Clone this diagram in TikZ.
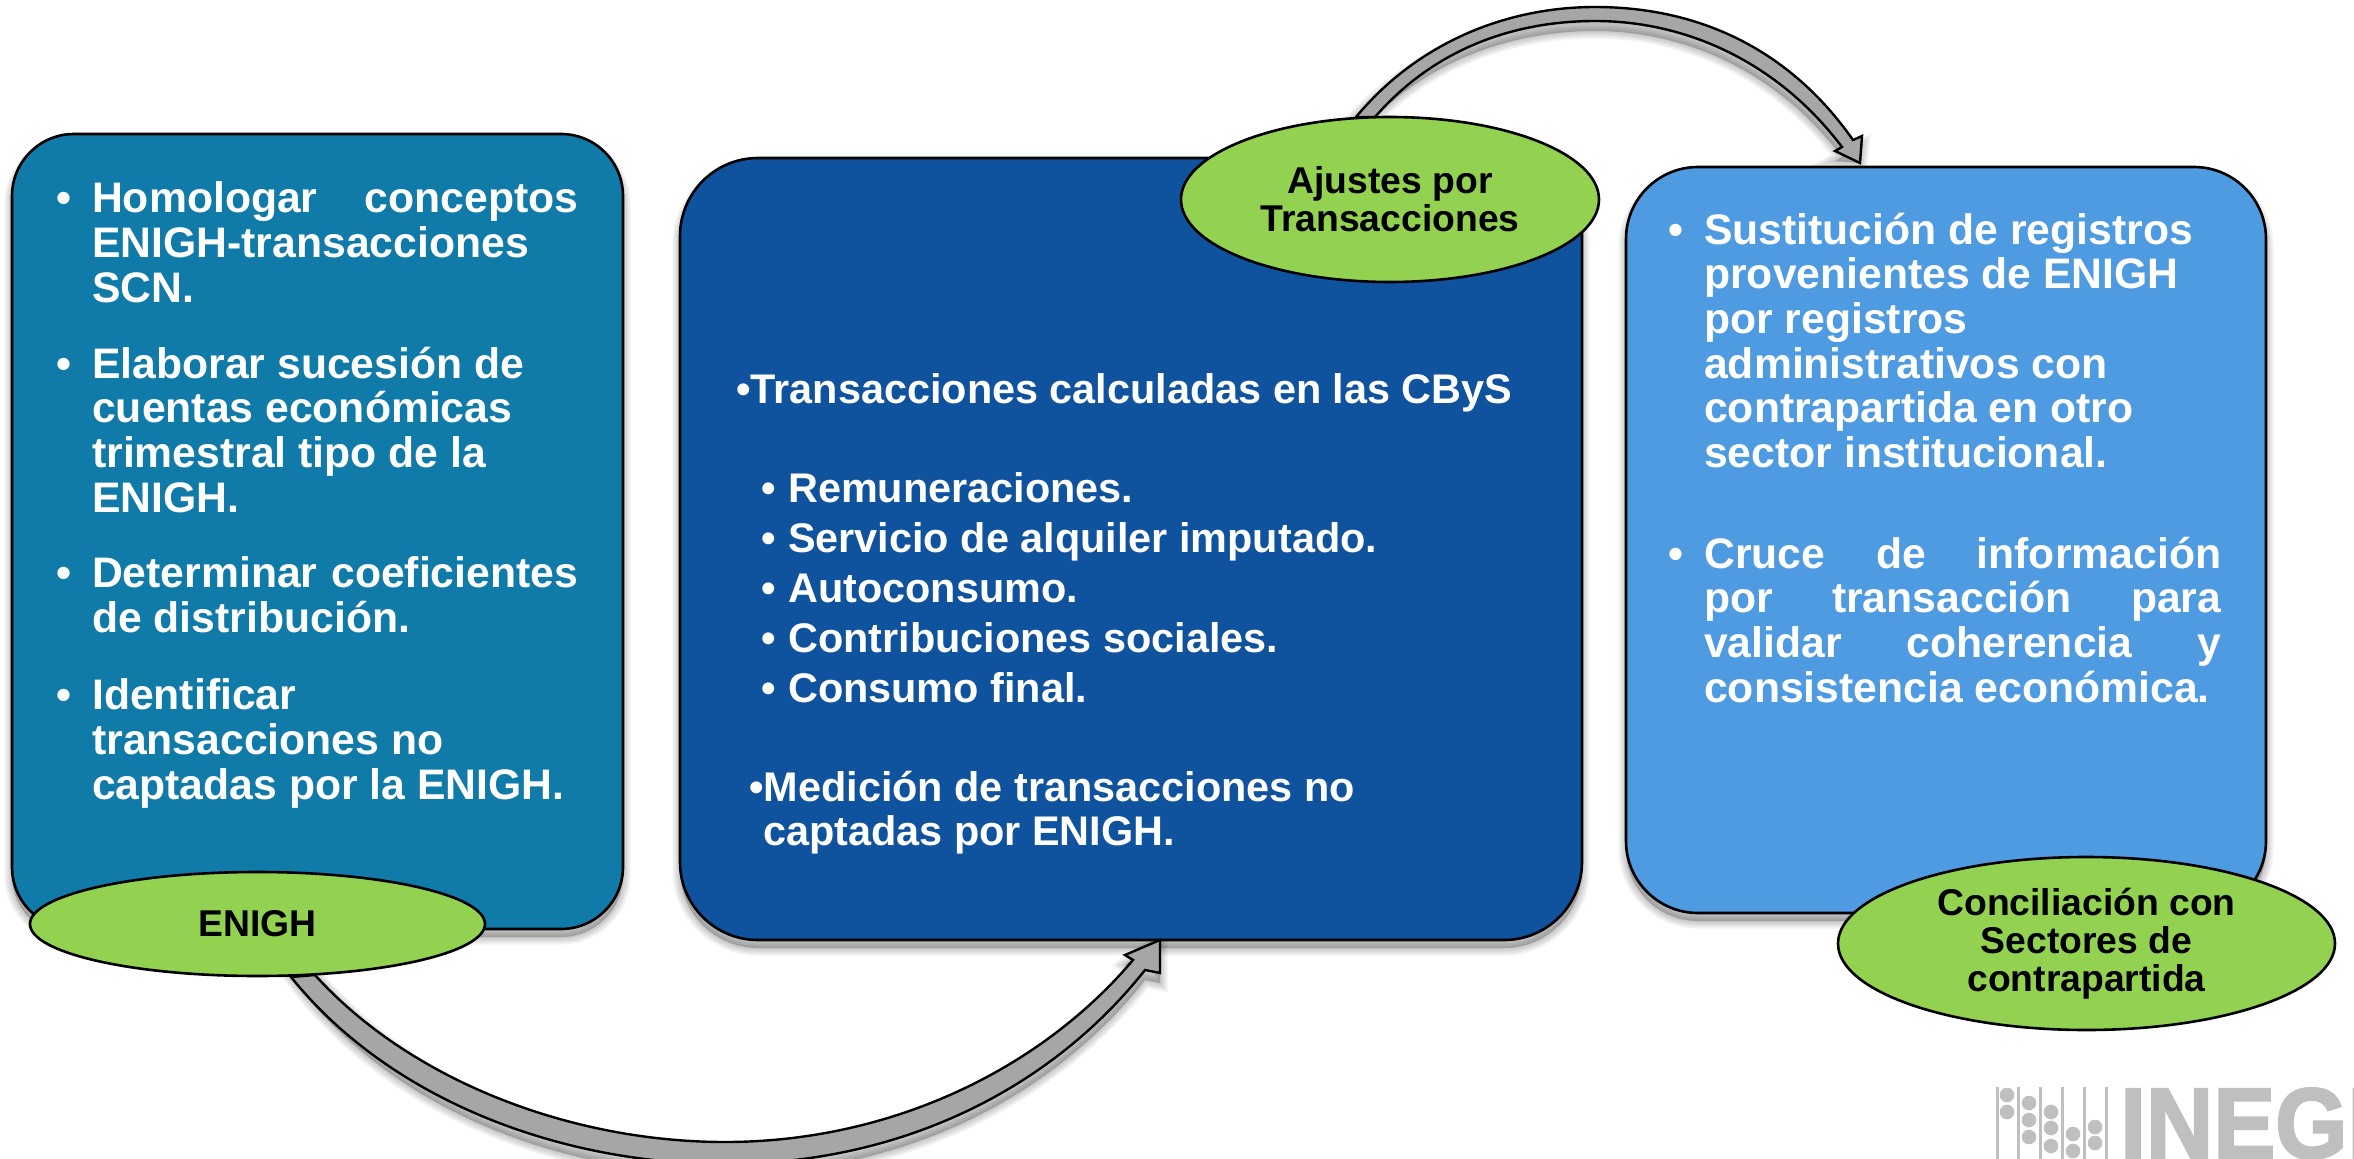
\documentclass[tikz,border=0pt]{standalone}
\usepackage{fontspec}
\setmainfont{Liberation Sans}
\newfontfamily\logofont[BoldFeatures={FakeBold=2.5}]{Liberation Sans}
\usetikzlibrary{shapes.geometric}
\definecolor{cA}{HTML}{107BA9}
\definecolor{cB}{HTML}{0F529D}
\definecolor{cC}{HTML}{4E9BE2}
\definecolor{cG}{HTML}{92D250}
\definecolor{cArrow}{HTML}{A6A6A6}
\definecolor{cLogo}{HTML}{BFBFBF}
\newcommand\softsh[2]{\foreach \w in {15,11,7,3}{\path[fill=black,draw=black,opacity=.055,line width=\w pt,shift={(0,#1)}] #2;}}
\newcommand\bul[1]{\llap{\textbullet\hskip#1pt}}
\tikzset{x=1pt,y=-1pt,
 boxnode/.style={draw=black,line width=2.6pt,inner sep=0pt,outer sep=0pt},
 ell/.style={ellipse,draw=black,line width=2.6pt,fill=cG,inner sep=0pt,align=center,text=black,font=\fontsize{37.3}{38.3}\selectfont\bfseries},
 bl/.style={anchor=north west,inner sep=0pt,yshift=31.22pt,align=left,text=white,font=\fontsize{42.7}{44.6}\selectfont\bfseries,execute at begin node=\strut},
 bm/.style={bl,font=\fontsize{41.4}{44.6}\selectfont\bfseries},
 blockarrow/.style={draw=black,line width=2.4pt,fill=cArrow,line join=miter},
 logoline/.style={draw=cLogo,line width=3pt},
 logodot/.style={circle,fill=cLogo,inner sep=0pt,minimum size=14.6pt}}
\begin{document}
\begin{tikzpicture}
\useasboundingbox (0,0) rectangle (2354,1159);
\fill[white] (0,0) rectangle (2354,1159);
% shadows
\softsh{8}{(12,134) [rounded corners=62pt] rectangle (623,929)}
\softsh{8}{(680,158) [rounded corners=78pt] rectangle (1582,940)}
\softsh{8}{(1626,167) [rounded corners=72pt] rectangle (2266,913)}
% coordinates of the arrows
\coordinate (tA) at (1356,117);
\coordinate (tB) at (1375,117);
\coordinate (tTip) at (1860,163);
\coordinate (bA) at (291,977);
\coordinate (bB) at (315,975);
\coordinate (bTip) at (1160,940);
% arrows' shadows
\softsh{10}{(tA) .. controls (1420,40) and (1510,7) .. (1595,7) .. controls (1700,7) and (1790,50) .. (1853,140) -- (1862,136) -- (tTip) -- (1835,151) -- (1842,147) .. controls (1780,65) and (1690,21) .. (1595,21) .. controls (1515,21) and (1435,48) .. (tB) -- cycle}
\softsh{10}{(bA) .. controls (390,1100) and (560,1164) .. (725,1164) .. controls (900,1164) and (1050,1090) .. (1145,970) -- (1160,973) -- (bTip) -- (1125,955) -- (1133,960) .. controls (1040,1070) and (890,1142) .. (725,1142) .. controls (570,1142) and (410,1080) .. (bB) -- cycle}
% boxes
\node[boxnode,fill=cA,rounded corners=62pt,minimum width=611pt,minimum height=795pt] (b1) at (317.5,531.5) {};
\node[boxnode,fill=cB,rounded corners=78pt,minimum width=902pt,minimum height=782pt] (b2) at (1131,549) {};
\node[boxnode,fill=cC,rounded corners=72pt,minimum width=640pt,minimum height=746pt] (b3) at (1946,540) {};
% block arrows
\draw[blockarrow] (tA) .. controls (1420,40) and (1510,7) .. (1595,7) .. controls (1700,7) and (1790,50) .. (1853,140) -- (1862,136) -- (tTip) -- (1835,151) -- (1842,147) .. controls (1780,65) and (1690,21) .. (1595,21) .. controls (1515,21) and (1435,48) .. (tB) -- cycle;
\draw[blockarrow] (bA) .. controls (390,1100) and (560,1164) .. (725,1164) .. controls (900,1164) and (1050,1090) .. (1145,970) -- (1160,973) -- (bTip) -- (1125,955) -- (1133,960) .. controls (1040,1070) and (890,1142) .. (725,1142) .. controls (570,1142) and (410,1080) .. (bB) -- cycle;
% ellipses
\node[ell,minimum width=455pt,minimum height=104pt] (e1) at (257.5,924) {ENIGH};
\node[ell,minimum width=418pt,minimum height=165pt] (e2) at (1390,199.5) {Ajustes por\\Transacciones};
\node[ell,minimum width=497pt,minimum height=173pt] (e3) at (2086.5,943.5) {Conciliación con\\Sectores de\\contrapartida};
% text box 1
\node[bl] (t11) at (92,213) {\bul{21}\makebox[486pt][s]{Homologar\hfill conceptos}\\ENIGH-transacciones\\SCN.};
\node[bl] (t12) at (92,378) {\bul{21}Elaborar sucesión de\\cuentas económicas\\trimestral tipo de la\\ENIGH.};
\node[bl] (t13) at (92,588) {\bul{21}\makebox[486pt][s]{Determinar\hfill coeficientes}\\de distribución.};
\node[bl] (t14) at (92,710) {\bul{21}Identificar\\transacciones no\\captadas por la ENIGH.};
% text box 2
\node[bm] (t21) at (736,403) {\textbullet Transacciones calculadas en las CByS};
\node[bm] (t22) at (788,502) {\bul{12}Remuneraciones.};
\node[bm] (t23) at (788,552) {\bul{12}Servicio de alquiler imputado.};
\node[bm] (t24) at (788,602) {\bul{12}Autoconsumo.};
\node[bm] (t25) at (788,652) {\bul{12}Contribuciones sociales.};
\node[bm] (t26) at (788,702) {\bul{12}Consumo final.};
\node[bm] (t27) at (749,802) {\textbullet Medición de transacciones no\\\hspace*{14pt}captadas por ENIGH.};
% text box 3
\node[bl] (t31) at (1704,244) {\bul{21}Sustitución de registros\\provenientes de ENIGH\\por registros\\administrativos con\\contrapartida en otro\\sector institucional.};
\node[bl] (t32) at (1704,568) {\bul{21}\makebox[517pt][s]{Cruce\hfill de\hfill información}\\\makebox[517pt][s]{por\hfill transacción\hfill para}\\\makebox[517pt][s]{validar\hfill coherencia\hfill y}\\consistencia económica.};
% logo
\begin{scope}
\clip (0,0) rectangle (2354,1159);
\foreach \n/\x in {la/1997,lb/2018,lc/2040,ld/2062,le/2084,lf/2106}{\coordinate (\n t) at (\x,1087);\coordinate (\n b) at (\x,1159);\draw[logoline] (\n t) -- (\n b);}
\foreach \n/\x/\y in {da/2007/1095,db/2007/1112,dc/2029/1103,dd/2029/1120,de/2029/1137,df/2051/1112,dg/2051/1128,dh/2051/1146,di/2073/1134,dj/2073/1151,dk/2095/1127,dl/2095/1143}{\node[logodot] (\n) at (\x,\y) {};}
\node[anchor=base west,inner sep=0pt,text=cLogo,transform shape,xscale=.93,font=\fontsize{100}{100}\logofont\bfseries] (logo) at (2120,1158) {INEGI};
\end{scope}
\end{tikzpicture}
\end{document}
